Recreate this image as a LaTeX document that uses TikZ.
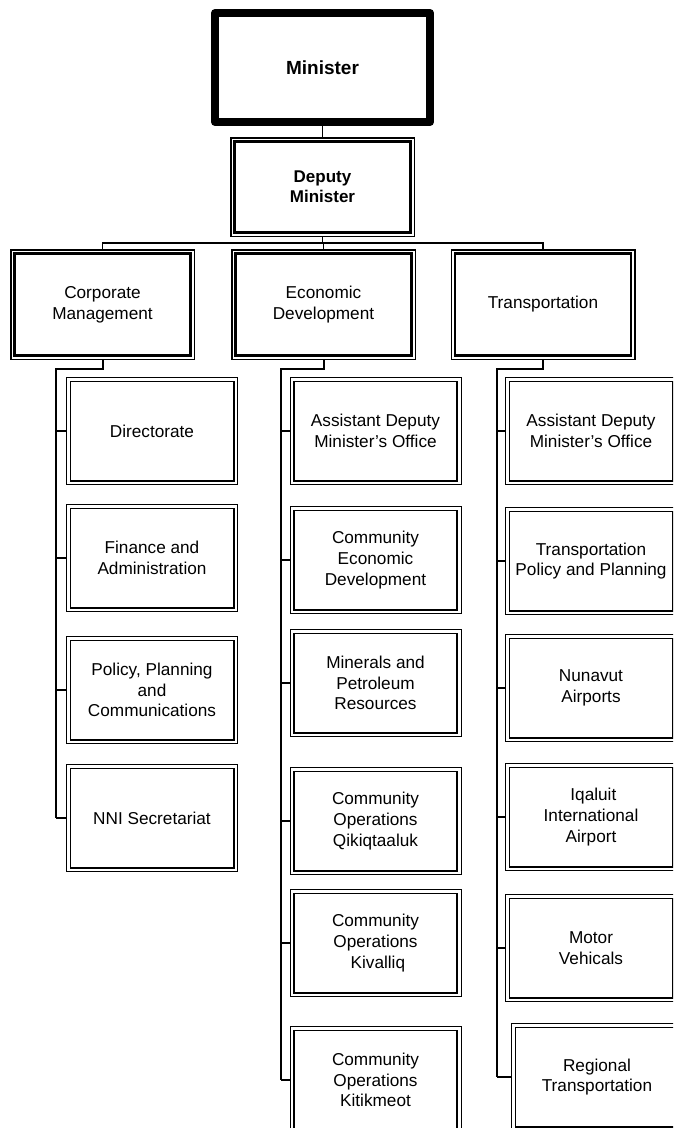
\documentclass[tikz,border=0pt]{standalone}
\usepackage{fontspec}
\setmainfont{Liberation Sans}
\begin{document}
\begin{tikzpicture}[x=1pt,y=-1pt,
  every node/.style={align=center, inner sep=0pt, text=black,
    font=\fontsize{17.2}{20.7}\selectfont},
  % heavy frame of the top box
  topbox/.style={draw, line width=8pt, line join=round, outer sep=4pt,
    minimum width=215pt, minimum height=109pt,
    font=\fontsize{19}{22.8}\selectfont\bfseries},
  % double frame: heavier inner line, thinner outer line
  headbox/.style={draw, line width=2.2pt, outer sep=4.5pt,
    minimum width=176pt, minimum height=102pt,
    append after command={\pgfextra{\draw[line width=1.5pt]
      ([shift={(0.75pt,0.75pt)}]\tikzlastnode.south west) rectangle
      ([shift={(-0.75pt,-0.75pt)}]\tikzlastnode.north east);}}},
  unitbox/.style={draw, line width=1.6pt, outer sep=4.3pt,
    minimum width=163.4pt, minimum height=99.4pt,
    append after command={\pgfextra{\draw[line width=0.9pt]
      ([shift={(0.45pt,0.45pt)}]\tikzlastnode.south west) rectangle
      ([shift={(-0.45pt,-0.45pt)}]\tikzlastnode.north east);}}},
  link/.style={draw, line width=1.2pt},
  trunk/.style={draw, line width=2pt},
  branch/.style={draw, line width=1.1pt}
]
\useasboundingbox (0,0) rectangle (673,1128);
\clip (0,0) rectangle (673,1128);

% top of the chart
\node[topbox] (min) at (322.5,67.5) {Minister};
\node[headbox, minimum height=91pt, font=\fontsize{17}{20.4}\selectfont\bfseries]
  (dep) at (322.5,187) {Deputy\\Minister};

% divisions
\node[headbox] (corp)  at (102.5,304.5) {Corporate\\Management};
\node[headbox] (econ)  at (323.5,304.5) {Economic\\Development};
\node[headbox] (trans) at (543,304.5)   {Transportation};

% Corporate Management units
\node[unitbox] (dir) at (152,431) {Directorate};
\node[unitbox] (fin) at (152,558) {Finance and\\Administration};
\node[unitbox] (ppc) at (152,690) {Policy, Planning\\and\\Communications};
\node[unitbox] (nni) at (152,818) {NNI Secretariat};

% Economic Development units
\node[unitbox] (eadm) at (375.5,431)  {Assistant Deputy\\Minister’s Office};
\node[unitbox] (ced)  at (375.5,560)  {Community\\Economic\\Development};
\node[unitbox] (mpr)  at (375.5,683)  {Minerals and\\Petroleum\\Resources};
\node[unitbox] (coq)  at (375.5,821)  {Community\\Operations\\Qikiqtaaluk};
\node[unitbox] (cok)  at (375.5,943)  {Community\\Operations\\\ Kivalliq};
\node[unitbox] (cot)  at (375.5,1080) {Community\\Operations\\Kitikmeot};

% Transportation units
\node[unitbox] (tadm) at (591,431)  {Assistant Deputy\\Minister’s Office};
\node[unitbox] (tpp)  at (591,561)  {Transportation\\Policy and Planning};
\node[unitbox] (nap)  at (591,688)  {Nunavut\\Airports};
\node[unitbox] (iia)  at (591,817)  {\ Iqaluit\\International\\Airport};
\node[unitbox] (mv)   at (591,948)  {Motor\\Vehicals};
\node[unitbox] (rt)   at (597,1077) {Regional\\Transportation};

% upper links
\coordinate (bar) at (322.5,243);
\draw[link] (min.south) -- (dep.north);
\draw[link] (dep.south) -- (bar);
\draw[link] (corp.north) |- (bar) -| (trans.north);
\draw[link] (econ.north) -- (econ.north |- bar);

% trunks under each division
\coordinate (ct) at (56,369);
\coordinate (et) at (281,369);
\coordinate (tt) at (497,369);
\draw[trunk] (corp.south) |- (ct) -- (ct |- nni.west);
\draw[trunk] (econ.south) |- (et) -- (et |- cot.west);
\draw[trunk] (trans.south) |- (tt) -- (tt |- rt.west);

% branches to the units
\foreach \u in {dir,fin,ppc,nni}
  \draw[branch] (ct |- \u.west) -- (\u.west);
\foreach \u in {eadm,ced,mpr,coq,cok,cot}
  \draw[branch] (et |- \u.west) -- (\u.west);
\foreach \u in {tadm,tpp,nap,iia,mv,rt}
  \draw[branch] (tt |- \u.west) -- (\u.west);
\end{tikzpicture}
\end{document}
